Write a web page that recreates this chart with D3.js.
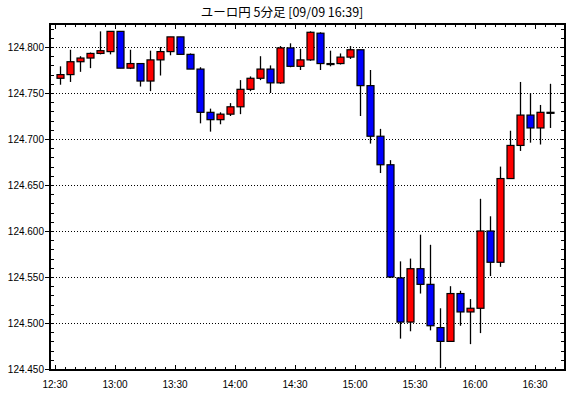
<!DOCTYPE html>
<html>
<head>
<meta charset="utf-8">
<script src="https://cdn.jsdelivr.net/npm/d3@7"></script>
<style>
  body { margin:0; background:#fff; }
  text { font-family: "Liberation Sans", Arial, sans-serif; fill:#000; }
</style>
</head>
<body>
<div id="chart"></div>
<script>
const width = 570, height = 398;
const margin = { top:24, right:5, bottom:28, left:50 };

const title = "ユーロ円 5分足 [09/09 16:39]";

// 5-minute candles from 12:30 to 16:35
const open  = [124.766,124.770,124.784,124.788,124.793,124.795,124.817,124.777,124.782,124.763,
               124.786,124.795,124.811,124.792,124.776,124.729,124.721,124.727,124.735,124.754,
               124.766,124.776,124.761,124.799,124.779,124.786,124.815,124.782,124.782,124.789,
               124.797,124.758,124.703,124.672,124.549,124.501,124.559,124.542,124.495,124.480,
               124.532,124.512,124.516,124.600,124.566,124.657,124.693,124.726,124.712,124.729];
const high  = [124.779,124.797,124.790,124.794,124.817,124.817,124.817,124.797,124.782,124.796,
               124.800,124.811,124.811,124.793,124.778,124.733,124.729,124.739,124.764,124.768,
               124.790,124.780,124.801,124.804,124.798,124.817,124.816,124.796,124.793,124.801,
               124.797,124.775,124.711,124.677,124.567,124.570,124.596,124.585,124.516,124.540,
               124.535,124.526,124.635,124.616,124.670,124.709,124.762,124.750,124.737,124.760];
const low   = [124.759,124.762,124.773,124.777,124.792,124.792,124.777,124.776,124.757,124.752,
               124.769,124.791,124.792,124.776,124.717,124.708,124.716,124.725,124.727,124.752,
               124.764,124.750,124.760,124.778,124.775,124.785,124.775,124.779,124.781,124.787,
               124.725,124.695,124.663,124.549,124.483,124.491,124.532,124.492,124.451,124.480,
               124.497,124.477,124.489,124.551,124.561,124.657,124.687,124.696,124.694,124.712];
const close = [124.770,124.784,124.788,124.793,124.796,124.817,124.777,124.782,124.763,124.786,
               124.795,124.811,124.792,124.776,124.729,124.721,124.727,124.735,124.754,124.766,
               124.776,124.761,124.799,124.779,124.786,124.816,124.782,124.782,124.789,124.797,
               124.758,124.703,124.672,124.550,124.501,124.559,124.542,124.497,124.480,124.532,
               124.512,124.516,124.600,124.566,124.657,124.693,124.726,124.712,124.729,124.729];

const yTicks = [124.450,124.500,124.550,124.600,124.650,124.700,124.750,124.800];
const xTickLabels = ["12:30","13:00","13:30","14:00","14:30","15:00","15:30","16:00","16:30"];

const data = open.map((o, i) => ({ i, o, h: high[i], l: low[i], c: close[i] }));

const svg = d3.select("#chart").append("svg")
  .attr("width", width).attr("height", height);

// minutes since 12:30
const x = d3.scaleLinear().domain([-2.5, 255]).range([margin.left, width - margin.right]);
const y = d3.scaleLinear().domain([124.4489, 124.825]).range([height - margin.bottom, margin.top]);

const x0 = x.range()[0], x1 = x.range()[1];
const y0 = y.range()[0], y1 = y.range()[1];

// title
svg.append("text")
  .attr("x", 282).attr("y", 17)
  .attr("text-anchor", "middle")
  .style("font-family", "'Noto Sans CJK JP', sans-serif")
  .style("font-size", "12.5px")
  .text(title);

// dotted grid
svg.append("g").selectAll("line")
  .data(yTicks).enter().append("line")
  .attr("x1", x0).attr("x2", x1)
  .attr("y1", d => Math.round(y(d)) + 0.5).attr("y2", d => Math.round(y(d)) + 0.5)
  .attr("stroke", "#000").attr("stroke-dasharray", "1,2");

// y minor ticks (every 0.01)
const yMinor = d3.range(124.45, 124.8201, 0.01);
const tk = svg.append("g").attr("stroke", "#000");
yMinor.forEach(v => {
  const yy = Math.round(y(v)) + 0.5;
  tk.append("line").attr("x1", x0).attr("x2", x0 + 4).attr("y1", yy).attr("y2", yy);
  tk.append("line").attr("x1", x1 - 4).attr("x2", x1).attr("y1", yy).attr("y2", yy);
});
yTicks.forEach(v => {
  const yy = Math.round(y(v)) + 0.5;
  tk.append("line").attr("x1", x0 - 5).attr("x2", x0).attr("y1", yy).attr("y2", yy);
});

// x ticks every 5 minutes
d3.range(0, 255, 5).forEach(m => {
  const xx = Math.round(x(m)) + 0.5;
  const len = m % 30 === 0 ? 5 : 3;
  tk.append("line").attr("x1", xx).attr("x2", xx).attr("y1", y1).attr("y2", y1 + len);
  tk.append("line").attr("x1", xx).attr("x2", xx).attr("y1", y0 - len).attr("y2", y0);
});

// y labels
svg.append("g").selectAll("text")
  .data(yTicks).enter().append("text")
  .attr("x", x0 - 6).attr("y", d => y(d) + 4)
  .attr("text-anchor", "end")
  .style("font-size", "10px")
  .text(d => d.toFixed(3));

// x labels
svg.append("g").selectAll("text")
  .data(xTickLabels).enter().append("text")
  .attr("x", (d, i) => x(i * 30)).attr("y", y0 + 18)
  .attr("text-anchor", "middle")
  .style("font-size", "10px")
  .text(d => d);

// candles
const bw = 7;
const candles = svg.append("g");
candles.selectAll(".wick")
  .data(data).enter().append("line")
  .attr("class", "wick")
  .attr("x1", d => Math.round(x(d.i * 5 + 2.5)) + 0.5)
  .attr("x2", d => Math.round(x(d.i * 5 + 2.5)) + 0.5)
  .attr("y1", d => y(d.h)).attr("y2", d => y(d.l))
  .attr("stroke", "#000").attr("stroke-width", 1.3);

candles.selectAll(".body")
  .data(data).enter().append("rect")
  .attr("class", "body")
  .attr("x", d => Math.round(x(d.i * 5 + 2.5)) + 0.5 - bw / 2)
  .attr("y", d => y(Math.max(d.o, d.c)))
  .attr("width", bw)
  .attr("height", d => Math.max(1, Math.abs(y(d.o) - y(d.c))))
  .attr("fill", d => d.c > d.o ? "#ff0000" : d.c < d.o ? "#0000ff" : "#000")
  .attr("stroke", "#000").attr("stroke-width", 1.2);

// frame
svg.append("rect")
  .attr("x", x0).attr("y", y1)
  .attr("width", x1 - x0).attr("height", y0 - y1)
  .attr("fill", "none").attr("stroke", "#000").attr("stroke-width", 2);
</script>
</body>
</html>
